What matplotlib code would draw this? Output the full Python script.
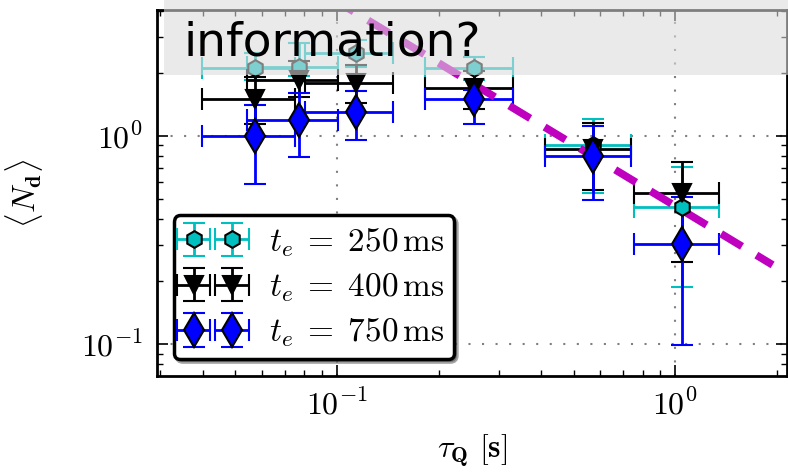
import matplotlib
matplotlib.use("Agg")
import matplotlib.pyplot as plt
import numpy as np
from matplotlib.patches import Rectangle

plt.rcParams['mathtext.fontset'] = 'cm'

# quench times and their spread
tau = np.array([0.0572, 0.0772, 0.1138, 0.254, 0.572, 1.05])
tau_lo = np.array([0.0399, 0.0542, 0.0804, 0.182, 0.412, 0.756])
tau_hi = np.array([0.0751, 0.1007, 0.1465, 0.330, 0.741, 1.35])

# t_e = 250 ms
n250 = np.array([2.12, 2.15, 2.5, 2.12, 0.905, 0.455])
n250_lo = np.array([1.85, 1.95, 2.15, 1.85, 0.53, 0.188])
n250_hi = np.array([2.5, 2.8, 2.9, 2.4, 1.21, 0.71])

# t_e = 400 ms
n400 = np.array([1.51, 1.86, 1.80, 1.70, 0.87, 0.532])
n400_lo = np.array([1.14, 1.54, 1.44, 1.35, 0.55, 0.248])
n400_hi = np.array([1.92, 2.3, 2.2, 2.05, 1.15, 0.75])

# t_e = 750 ms
n750 = np.array([1.0, 1.19, 1.30, 1.51, 0.80, 0.303])
n750_lo = np.array([0.588, 0.79, 0.96, 1.14, 0.49, 0.099])
n750_hi = np.array([1.41, 1.61, 1.65, 1.66, 1.12, 0.509])

# power-law guide line end points
fit_x = [0.09, 1.94]
fit_y = [4.9, 0.24]

labels = [r'$t_e\;=\;250\,\mathrm{ms}$', r'$t_e\;=\;400\,\mathrm{ms}$', r'$t_e\;=\;750\,\mathrm{ms}$']

fig = plt.figure(figsize=(7.88, 4.73), dpi=100)
ax = fig.add_axes([157/788, 1-376/473, 630/788, 366/473])

xerr = [tau - tau_lo, tau_hi - tau]
series = [(n250, n250_lo, n250_hi, 'c', 'h', 12),
          (n400, n400_lo, n400_hi, 'k', 'v', 13),
          (n750, n750_lo, n750_hi, 'b', 'd', 17)]
for (y, lo, hi, col, mk, ms), lab in zip(series, labels):
    ax.errorbar(tau, y, xerr=xerr, yerr=[y - lo, hi - y], fmt=mk, color=col,
                ms=ms, mec='k', mew=1.5, elinewidth=2, capsize=8, capthick=1.5,
                label=lab)

ax.plot(fit_x, fit_y, color='m', lw=5.5, dashes=(3.2, 2.2))

ax.set_xscale('log')
ax.set_yscale('log')
ax.set_xlim(0.0293, 2.14)
ax.set_ylim(0.0702, 4.03)

ax.set_xticks([0.1, 1])
ax.set_xticklabels([r'$10^{-1}$', r'$10^{0}$'])
ax.set_yticks([0.1, 1])
ax.set_yticklabels([r'$10^{-1}$', r'$10^{0}$'])
ax.tick_params(which='both', direction='in', top=True, right=True, labelsize=23)
ax.tick_params(which='major', length=8, width=1.2, pad=10)
ax.tick_params(which='minor', length=4, width=1)
for s in ax.spines.values():
    s.set_linewidth(2)
ax.grid(True, which='major', color='grey', lw=1.5, dashes=(1, 5.5))

ax.set_xlabel(r'$\tau_{\mathbf{Q}}\ \mathbf{[s]}$', fontsize=23, labelpad=8)
ax.set_ylabel(r'$\langle N_{\mathbf{d}}\rangle$', fontsize=23, labelpad=26)

leg = ax.legend(loc='lower left', numpoints=2, fontsize=24, fancybox=True,
                shadow=True, framealpha=1, borderaxespad=0.5,
                handletextpad=0.8, labelspacing=0.35, borderpad=0.3,
                handlelength=1.75)
leg.get_frame().set_edgecolor('k')
leg.get_frame().set_linewidth(2.5)

# grey overlay band with the question text
fig.add_artist(Rectangle((164/788, 1-75/473), 1, 75/473, transform=fig.transFigure,
                         facecolor=(0.86, 0.86, 0.86), alpha=0.58, edgecolor='none',
                         zorder=10))
fig.text(183/788, 1-55/473, 'information?', fontsize=34, color='black',
         zorder=11, va='baseline')

plt.savefig("out.png")
